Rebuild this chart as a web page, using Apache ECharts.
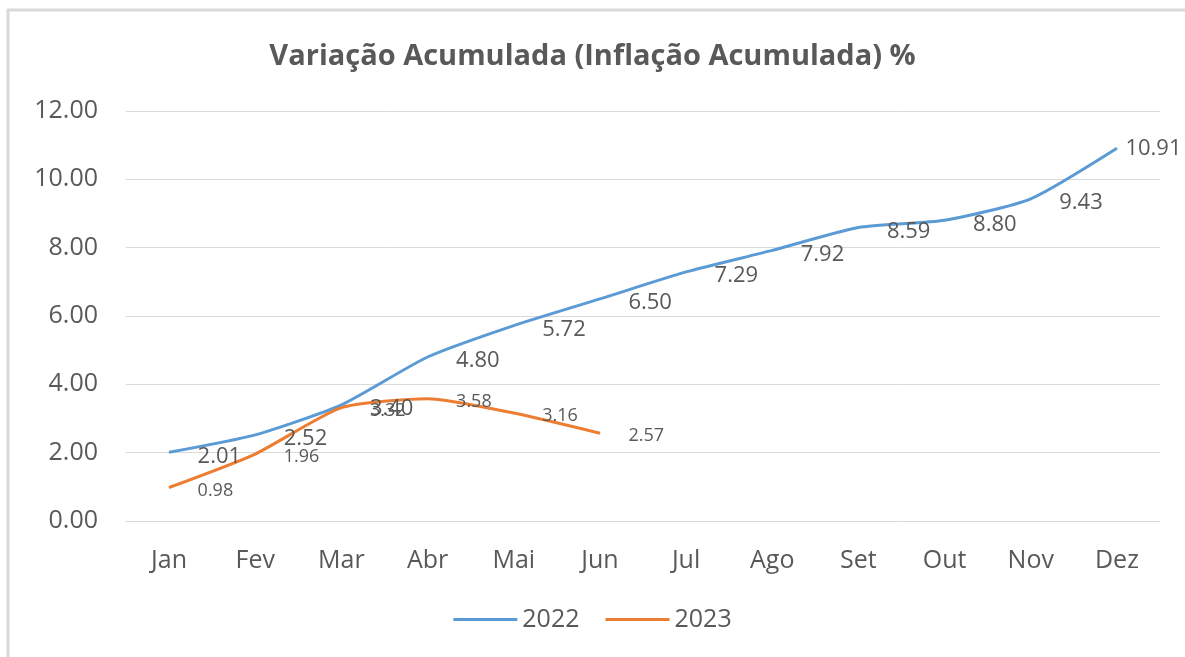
<!DOCTYPE html>
<html>
<head>
<meta charset="utf-8">
<script src="https://cdn.jsdelivr.net/npm/echarts@6/dist/echarts.min.js"></script>
<style>
    html, body { margin: 0; padding: 0; background: #fff; }
    #chart { width: 1185px; height: 657px; }
</style>
</head>
<body>
<div id="chart"></div>
<script>
// dados
var meses = ['Jan', 'Fev', 'Mar', 'Abr', 'Mai', 'Jun', 'Jul', 'Ago', 'Set', 'Out', 'Nov', 'Dez'];
var acum2022 = [2.01, 2.52, 3.40, 4.80, 5.72, 6.50, 7.29, 7.92, 8.59, 8.80, 9.43, 10.91];
var acum2023 = [0.98, 1.96, 3.32, 3.58, 3.16, 2.57];

var cinza = '#595959';
var fonte = '"Open Sans", sans-serif';

var chart = echarts.init(document.getElementById('chart'));

// o ultimo rotulo fica colado no ponto (nao cabe)
var dados2022 = acum2022.map(function (v, i) {
    if (i === acum2022.length - 1) {
        return { value: v, label: { distance: 8, offset: [0, 0] } };
    }
    return v;
});

var option = {
    backgroundColor: '#ffffff',
    animation: false,
    title: {
        text: 'Variação Acumulada (Inflação Acumulada) %',
        left: 'center',
        top: 37,
        textStyle: {
            color: cinza,
            fontFamily: fonte,
            fontWeight: 'bold',
            fontSize: 29
        }
    },
    legend: {
        top: 602,
        left: 'center',
        icon: 'rect',
        itemWidth: 64,
        itemHeight: 3,
        itemGap: 26,
        textStyle: {
            color: cinza,
            fontFamily: fonte,
            fontSize: 25
        },
        data: ['2022', '2023']
    },
    grid: {
        left: 126,
        right: 25,
        top: 111,
        bottom: 136
    },
    xAxis: {
        type: 'category',
        data: meses,
        boundaryGap: true,
        axisLine: { lineStyle: { color: '#d9d9d9', width: 1 } },
        axisTick: { show: false },
        axisLabel: {
            color: cinza,
            fontFamily: fonte,
            fontSize: 25,
            margin: 27
        }
    },
    yAxis: {
        type: 'value',
        min: 0,
        max: 12,
        interval: 2,
        axisLine: { show: false },
        axisTick: { show: false },
        axisLabel: {
            color: cinza,
            fontFamily: fonte,
            fontSize: 25,
            margin: 28,
            formatter: function (v) { return v.toFixed(2); }
        },
        splitLine: { lineStyle: { color: '#d9d9d9', width: 1 } }
    },
    series: [{
        name: '2022',
        type: 'line',
        data: dados2022,
        smooth: 0.2,
        symbol: 'circle',
        symbolSize: 1,
        color: '#5B9BD5',
        lineStyle: { color: '#5B9BD5', width: 3 },
        label: {
            show: true,
            position: 'right',
            distance: 28,
            offset: [0, 4],
            color: cinza,
            fontFamily: fonte,
            fontSize: 22,
            formatter: function (p) { return p.value.toFixed(2); }
        }
    }, {
        name: '2023',
        type: 'line',
        data: acum2023,
        smooth: 0.2,
        symbol: 'circle',
        symbolSize: 1,
        color: '#ED7D31',
        lineStyle: { color: '#ED7D31', width: 3 },
        label: {
            show: true,
            position: 'right',
            distance: 28,
            offset: [0, 3],
            color: cinza,
            fontFamily: fonte,
            fontSize: 18,
            formatter: function (p) { return p.value.toFixed(2); }
        }
    }],
    graphic: [{
        type: 'line',
        shape: { x1: 7, y1: 10, x2: 1185, y2: 10 },
        style: { stroke: '#d9d9d9', lineWidth: 3 }
    }, {
        type: 'line',
        shape: { x1: 8, y1: 9, x2: 8, y2: 657 },
        style: { stroke: '#d9d9d9', lineWidth: 3 }
    }]
};
chart.setOption(option);
</script>
</body>
</html>
